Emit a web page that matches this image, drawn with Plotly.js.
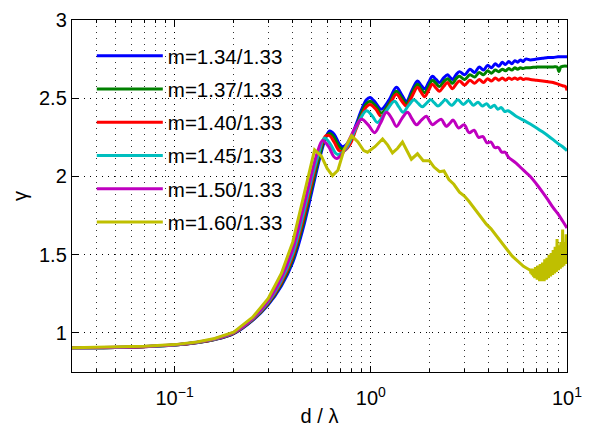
<!DOCTYPE html>
<html>
<head>
<meta charset="utf-8">
<script src="https://cdn.plot.ly/plotly-3.0.1.min.js"></script>
<style>
  html, body { margin: 0; padding: 0; background: #fff; }
  #chart { width: 589px; height: 427px; }
</style>
</head>
<body>
<div id="chart"></div>
<script>
// Size parameter d / lambda and the factor gamma for six relative refractive indices.

const labels = ['m=1.34/1.33', 'm=1.37/1.33', 'm=1.40/1.33', 'm=1.45/1.33', 'm=1.50/1.33', 'm=1.60/1.33'];
const colors = ['#0000ff', '#008000', '#ff0000', '#00bfbf', '#bf00bf', '#bfbf00'];

// m = 1.34/1.33
const x134 = [0.03, 0.05, 0.07, 0.1, 0.13, 0.16, 0.2, 0.25, 0.3, 0.35, 0.4, 0.45, 0.5,
  0.55, 0.59, 0.617, 0.65, 0.69, 0.72, 0.78, 0.84, 0.9, 0.95, 0.99, 1.06, 1.13, 1.24, 1.35, 1.44, 1.52,
  1.62, 1.73, 1.80, 1.88, 1.97, 2.06, 2.15, 2.24, 2.35, 2.46, 2.53, 2.61, 2.72, 2.83, 3.01, 3.20, 3.38,
  3.57, 3.75, 3.94, 4.12, 4.31, 4.49, 4.68, 4.86, 5.05, 5.23, 5.42, 5.6, 5.79, 5.97, 6.16, 6.5, 7.0,
  7.5, 8.0, 8.5, 9.0, 9.5, 10];
const y134 = [0.905, 0.907, 0.912, 0.922, 0.937, 0.957, 0.995, 1.08, 1.18, 1.30, 1.45, 1.66, 1.90,
  2.12, 2.25, 2.29, 2.27, 2.21, 2.19, 2.23, 2.33, 2.43, 2.49, 2.505, 2.47, 2.43, 2.49, 2.57, 2.52, 2.48,
  2.55, 2.61, 2.585, 2.56, 2.60, 2.64, 2.62, 2.60, 2.63, 2.65, 2.635, 2.62, 2.65, 2.67, 2.65, 2.685, 2.665,
  2.70, 2.68, 2.71, 2.695, 2.72, 2.705, 2.73, 2.715, 2.735, 2.72, 2.74, 2.73, 2.745, 2.735, 2.75, 2.745, 2.75,
  2.755, 2.76, 2.76, 2.765, 2.765, 2.765];

// m = 1.37/1.33
const x137 = [0.03, 0.05, 0.07, 0.1, 0.13, 0.16, 0.2, 0.25, 0.3, 0.35, 0.4, 0.45, 0.5,
  0.55, 0.59, 0.617, 0.65, 0.69, 0.72, 0.78, 0.84, 0.9, 0.95, 0.99, 1.06, 1.13, 1.24, 1.35, 1.44, 1.52,
  1.62, 1.73, 1.80, 1.88, 1.97, 2.06, 2.15, 2.24, 2.35, 2.46, 2.53, 2.61, 2.72, 2.83, 3.01, 3.20, 3.38,
  3.57, 3.75, 3.94, 4.12, 4.31, 4.49, 4.68, 4.86, 5.05, 5.23, 5.42, 5.6, 5.79, 5.97, 6.16, 6.5, 7.0,
  7.5, 8.0, 8.5, 8.9, 9.1, 9.3, 9.6, 10];
const y137 = [0.905, 0.907, 0.912, 0.922, 0.938, 0.958, 0.997, 1.083, 1.186, 1.312, 1.47, 1.689, 1.93,
  2.14, 2.255, 2.275, 2.25, 2.19, 2.175, 2.215, 2.315, 2.41, 2.465, 2.48, 2.45, 2.405, 2.465, 2.545, 2.50, 2.465,
  2.53, 2.59, 2.56, 2.535, 2.575, 2.615, 2.595, 2.575, 2.605, 2.625, 2.61, 2.595, 2.625, 2.64, 2.62, 2.65, 2.635,
  2.665, 2.65, 2.675, 2.66, 2.68, 2.67, 2.685, 2.675, 2.69, 2.68, 2.695, 2.685, 2.695, 2.69, 2.695, 2.695, 2.70,
  2.70, 2.70, 2.70, 2.70, 2.67, 2.70, 2.705, 2.705];

// m = 1.40/1.33
const x140 = [0.03, 0.05, 0.07, 0.1, 0.13, 0.16, 0.2, 0.25, 0.3, 0.35, 0.4, 0.45, 0.5,
  0.55, 0.59, 0.617, 0.65, 0.69, 0.72, 0.78, 0.84, 0.9, 0.95, 0.99, 1.06, 1.13, 1.24, 1.35, 1.44, 1.52,
  1.62, 1.73, 1.80, 1.88, 1.97, 2.06, 2.15, 2.24, 2.35, 2.46, 2.53, 2.61, 2.72, 2.83, 3.01, 3.20, 3.38,
  3.57, 3.75, 3.94, 4.12, 4.31, 4.49, 4.68, 4.86, 5.05, 5.23, 5.42, 5.6, 5.79, 5.97, 6.16, 6.5, 7.0,
  7.5, 8.0, 8.5, 9.0, 9.5, 9.8, 10];
const y140 = [0.905, 0.907, 0.912, 0.923, 0.939, 0.959, 0.999, 1.086, 1.192, 1.324, 1.489, 1.717, 1.96,
  2.17, 2.26, 2.26, 2.22, 2.165, 2.16, 2.20, 2.30, 2.39, 2.445, 2.46, 2.43, 2.385, 2.45, 2.525, 2.48, 2.45,
  2.51, 2.57, 2.54, 2.51, 2.55, 2.59, 2.565, 2.545, 2.575, 2.60, 2.58, 2.56, 2.59, 2.61, 2.585, 2.615, 2.595,
  2.62, 2.60, 2.625, 2.61, 2.63, 2.615, 2.63, 2.615, 2.63, 2.62, 2.63, 2.62, 2.63, 2.62, 2.625, 2.62, 2.615,
  2.61, 2.605, 2.60, 2.59, 2.58, 2.575, 2.55];

// m = 1.45/1.33
const x145 = [0.03, 0.05, 0.07, 0.1, 0.13, 0.16, 0.2, 0.25, 0.3, 0.35, 0.4, 0.45, 0.5,
  0.54, 0.58, 0.62, 0.66, 0.68, 0.74, 0.8, 0.87, 0.95, 1.02, 1.08, 1.2, 1.32, 1.39, 1.46, 1.56, 1.66,
  1.75, 1.83, 1.93, 2.02, 2.11, 2.2, 2.3, 2.40, 2.58, 2.78, 2.96, 3.15, 3.33, 3.52, 3.70, 3.89, 4.07,
  4.26, 4.44, 4.63, 4.81, 5.0, 5.5, 6.0, 6.5, 7.0, 7.5, 8.0, 8.5, 9.0, 9.5, 10];
const y145 = [0.905, 0.907, 0.913, 0.923, 0.940, 0.960, 1.001, 1.089, 1.198, 1.336, 1.508, 1.746, 1.99,
  2.14, 2.245, 2.21, 2.15, 2.14, 2.17, 2.25, 2.35, 2.42, 2.385, 2.345, 2.42, 2.48, 2.445, 2.41, 2.455, 2.49,
  2.465, 2.445, 2.47, 2.49, 2.47, 2.45, 2.47, 2.49, 2.455, 2.49, 2.46, 2.485, 2.455, 2.475, 2.45, 2.465, 2.44,
  2.455, 2.43, 2.44, 2.415, 2.42, 2.385, 2.36, 2.335, 2.31, 2.285, 2.26, 2.235, 2.21, 2.19, 2.165];

// m = 1.50/1.33
const x150 = [0.03, 0.05, 0.07, 0.1, 0.13, 0.16, 0.2, 0.25, 0.3, 0.35, 0.4, 0.45, 0.5,
  0.53, 0.568, 0.61, 0.645, 0.669, 0.72, 0.78, 0.84, 0.897, 0.97, 1.045, 1.12, 1.203, 1.28, 1.352, 1.44,
  1.538, 1.62, 1.709, 1.81, 1.92, 1.99, 2.062, 2.17, 2.29, 2.36, 2.43, 2.53, 2.63, 2.80, 2.99, 3.17, 3.36,
  3.54, 3.73, 3.91, 4.10, 4.28, 4.47, 4.65, 4.84, 5.02, 5.5, 6.0, 6.5, 7.0, 7.5, 8.0, 8.5, 9.0, 9.5, 10];
const y150 = [0.905, 0.908, 0.913, 0.924, 0.941, 0.962, 1.003, 1.093, 1.206, 1.352, 1.535, 1.783, 2.02,
  2.14, 2.23, 2.19, 2.13, 2.115, 2.15, 2.24, 2.32, 2.365, 2.33, 2.28, 2.34, 2.41, 2.37, 2.32, 2.37,
  2.41, 2.37, 2.33, 2.36, 2.385, 2.355, 2.33, 2.35, 2.365, 2.34, 2.32, 2.34, 2.36, 2.31, 2.33, 2.28, 2.295,
  2.25, 2.255, 2.215, 2.22, 2.185, 2.185, 2.155, 2.155, 2.125, 2.085, 2.04, 2.00, 1.95, 1.90, 1.85, 1.80, 1.76, 1.715, 1.67];

// m = 1.60/1.33 (noisy tail beyond d / lambda of about 6.5)
const x160 = [0.03, 0.05, 0.07, 0.1, 0.13, 0.16, 0.2, 0.25, 0.3, 0.35, 0.4, 0.45, 0.5,
  0.517, 0.56, 0.60, 0.638, 0.68, 0.73, 0.798, 0.86, 0.92, 0.962, 1.05, 1.148, 1.22, 1.29, 1.37, 1.45,
  1.53, 1.61, 1.73, 1.85, 1.99, 2.1, 2.24, 2.36, 2.5, 2.65, 2.83, 3.0, 3.17, 3.35, 3.5, 3.7, 3.88, 4.1,
  4.3, 4.52, 4.75, 5.0, 5.26, 5.5, 5.71, 6.0, 6.3,
  6.50, 6.55, 6.60, 6.65, 6.70, 6.75, 6.80, 6.85, 6.90, 6.95, 7.00, 7.05, 7.10, 7.15, 7.20, 7.25,
  7.30, 7.35, 7.40, 7.45, 7.50, 7.55, 7.60, 7.65, 7.70, 7.75, 7.80, 7.85, 7.90, 7.95, 8.00, 8.05,
  8.10, 8.15, 8.20, 8.25, 8.30, 8.35, 8.40, 8.45, 8.50, 8.55, 8.60, 8.65, 8.70, 8.75, 8.80, 8.85,
  8.90, 8.95, 9.00, 9.05, 9.10, 9.15, 9.20, 9.25, 9.30, 9.35, 9.40, 9.45, 9.50, 9.55, 9.60, 9.65,
  9.70, 9.75, 9.80, 9.85, 9.90, 9.95, 10.0];
const y160 = [0.905, 0.908, 0.914, 0.925, 0.942, 0.964, 1.005, 1.10, 1.22, 1.38, 1.58, 1.85, 2.09,
  2.17, 2.13, 2.05, 2.005, 2.04, 2.17, 2.26, 2.22, 2.165, 2.155, 2.19, 2.24, 2.20, 2.15, 2.18, 2.22,
  2.16, 2.11, 2.145, 2.10, 2.10, 2.06, 2.03, 2.035, 1.98, 1.95, 1.90, 1.875, 1.84, 1.80, 1.775, 1.73, 1.695, 1.665,
  1.63, 1.60, 1.56, 1.525, 1.49, 1.47, 1.45, 1.425, 1.41,
  1.40, 1.38, 1.41, 1.37, 1.40, 1.36, 1.41, 1.35, 1.42, 1.36, 1.40, 1.34, 1.43, 1.35, 1.41, 1.33,
  1.44, 1.34, 1.42, 1.33, 1.45, 1.34, 1.41, 1.33, 1.47, 1.35, 1.44, 1.34, 1.48, 1.36, 1.45, 1.35,
  1.50, 1.37, 1.46, 1.36, 1.51, 1.38, 1.47, 1.37, 1.53, 1.39, 1.48, 1.38, 1.55, 1.40, 1.49, 1.39,
  1.60, 1.41, 1.50, 1.40, 1.56, 1.42, 1.51, 1.41, 1.58, 1.43, 1.52, 1.42, 1.66, 1.44, 1.53, 1.43,
  1.58, 1.45, 1.54, 1.44, 1.63, 1.46, 1.52];

const seriesX = [x134, x137, x140, x145, x150, x160];
const seriesY = [y134, y137, y140, y145, y150, y160];

// Axis ticks
const xTickVals = [0.1, 1, 10];
const xTickText = ['10<sup>\u22121</sup>', '10<sup>0</sup>', '10<sup>1</sup>'];
const xMinorVals = [0.04, 0.05, 0.06, 0.07, 0.08, 0.09, 0.2, 0.3, 0.4, 0.5, 0.6, 0.7, 0.8, 0.9,
  2, 3, 4, 5, 6, 7, 8, 9];
const yTickVals = [1, 1.5, 2, 2.5, 3];
const yTickText = ['1', '1.5', '2', '2.5', '3'];

const traces = seriesX.map((xs, i) => ({
  x: xs,
  y: seriesY[i],
  type: 'scatter',
  mode: 'lines',
  name: labels[i],
  legendgroup: 'g' + i,
  line: { color: colors[i], width: 3, shape: i === 5 ? 'linear' : 'spline', smoothing: 1 },
  hoverinfo: 'skip'
}));

const gridDots = '1px,5px';

const layout = {
  width: 589,
  height: 427,
  margin: { l: 72, r: 22, t: 20, b: 55 },
  paper_bgcolor: '#ffffff',
  plot_bgcolor: '#ffffff',
  font: { family: 'Liberation Sans, Arial, Helvetica, sans-serif', size: 20, color: '#000000' },
  showlegend: true,
  legend: {
    x: 0.04, y: 0.955, xanchor: 'left', yanchor: 'top',
    bgcolor: 'rgba(0,0,0,0)', borderwidth: 0,
    font: { size: 20.5, color: '#000000' },
    itemwidth: 66,
    tracegroupgap: 3.6
  },
  xaxis: {
    type: 'log',
    range: [Math.log10(0.03), 1],
    tickmode: 'array',
    tickvals: xTickVals,
    ticktext: xTickText,
    ticks: 'inside',
    ticklen: 6,
    tickcolor: '#000000',
    ticklabelstandoff: 8,
    showline: true,
    linecolor: '#000000',
    linewidth: 1.2,
    mirror: 'allticks',
    showgrid: true,
    gridcolor: '#000000',
    gridwidth: 1,
    griddash: gridDots,
    zeroline: false,
    tickfont: { size: 20 },
    minor: {
      tickmode: 'array',
      tickvals: xMinorVals,
      ticks: 'inside',
      ticklen: 3,
      tickcolor: '#000000',
      showgrid: true,
      gridcolor: '#333333',
      gridwidth: 1,
      griddash: gridDots
    },
    title: { text: 'd / \u03bb', font: { size: 20 }, standoff: 2 }
  },
  yaxis: {
    range: [0.75, 3],
    tickmode: 'array',
    tickvals: yTickVals,
    ticktext: yTickText,
    ticks: 'inside',
    ticklen: 6,
    tickcolor: '#000000',
    showline: true,
    linecolor: '#000000',
    linewidth: 1.2,
    mirror: 'allticks',
    showgrid: true,
    gridcolor: '#000000',
    gridwidth: 1,
    griddash: gridDots,
    zeroline: false,
    tickfont: { size: 20 },
    title: { text: '\u03b3', font: { size: 20 }, standoff: 6 }
  }
};

Plotly.newPlot('chart', traces, layout, { displayModeBar: false, staticPlot: true });
</script>
</body>
</html>
